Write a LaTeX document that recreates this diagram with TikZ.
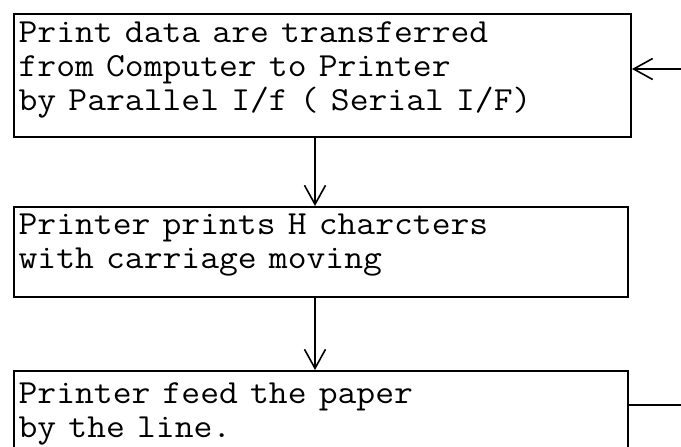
\documentclass[tikz,border=0pt]{standalone}
\usetikzlibrary{arrows.meta}
\begin{document}
\begin{tikzpicture}[x=1pt,y=-1pt,
  stepbox/.style={draw, line width=2pt, anchor=north west, inner sep=0pt},
  steptext/.style={anchor=north west, inner sep=0pt, text width=560pt, align=left,
    xscale=1.085, transform shape,
    font=\ttfamily\fontsize{33.7}{34}\selectfont},
  flow/.style={line width=1.6pt, -{Straight Barb[length=19pt,width=21pt,line width=1.6pt]}},
  plain/.style={line width=1.6pt}]
\useasboundingbox (0,0) rectangle (681,447);
\node[stepbox, minimum width=617pt, minimum height=123pt] (b1) at (13,13) {};
\node[stepbox, minimum width=614pt, minimum height=90pt] (b2) at (13,206) {};
\node[stepbox, minimum width=614pt, minimum height=78pt] (b3) at (13,370) {};
\node[steptext] (t1) at (18.4,22)
  {Print data are transferred\\from Computer to Printer\\by Parallel I/f ( Serial I/F)};
\node[steptext] (t2) at (18.4,214)
  {Printer prints H charcters\\with carriage moving};
\node[steptext] (t3) at (18.4,383)
  {Printer feed the paper\\by the line.};
\coordinate (inR) at (681,69);
\coordinate (outR) at (681,405);
\coordinate (mid) at (315,0);
\draw[flow] (b1.south -| mid) -- (b2.north -| mid);
\draw[flow] (b2.south -| mid) -- (b3.north -| mid);
\draw[flow] (inR) -- (b1.east |- inR);
\draw[plain] (b3.east |- outR) -- (outR);
\end{tikzpicture}
\end{document}
